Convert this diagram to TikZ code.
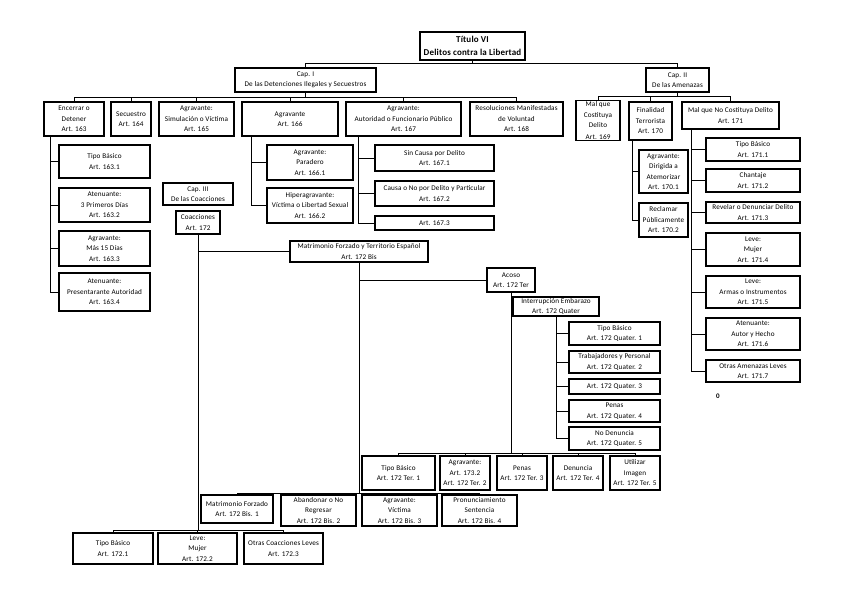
\documentclass[tikz,border=0pt]{standalone}
\usepackage{fontspec}
\setmainfont{Carlito}[LetterSpace=2]

\tikzset{
  box/.style 2 args={draw, line width=1.1pt, align=center, inner sep=0pt,
    minimum width=#1, minimum height=#2, font=\fontsize{7.2}{10.5}\selectfont},
  link/.style={line width=1pt},
}

\begin{document}
\begin{tikzpicture}[x=1pt,y=-1pt]
  \useasboundingbox (0,0) rectangle (848,599);

  % Title and chapters
  \node[box={105}{28}, line width=1.6pt, font=\fontsize{9}{13}\selectfont\bfseries] (tit) at (472.5,46) {Título VI\\Delitos contra la Libertad};
  \node[box={141}{24}] (cap1) at (305.5,80) {Cap. I\\De las Detenciones Ilegales y Secuestros};
  \node[box={63}{24}] (cap2) at (677.5,80) {Cap. II\\De las Amenazas};

  % Cap. I articles
  \node[box={60}{34}] (a163) at (74,119) {Encerrar o\\Detener\\Art. 163};
  \node[box={40}{34}] (a164) at (131,119) {Secuestro\\Art. 164};
  \node[box={75}{34}] (a165) at (196.5,119) {Agravante:\\Simulación o Víctima\\Art. 165};
  \node[box={96}{34}] (a166) at (290,119) {Agravante\\Art. 166};
  \node[box={115}{34}] (a167) at (403.5,119) {Agravante:\\Autoridad o Funcionario Público\\Art. 167};
  \node[box={93}{34}] (a168) at (516.5,119) {Resoluciones Manifestadas\\de Voluntad\\Art. 168};

  % Art. 163
  \node[box={91}{33}] (a1631) at (104.5,161.5) {Tipo Básico\\Art. 163.1};
  \node[box={91}{34}] (a1632) at (104.5,205) {Atenuante:\\3 Primeros Días\\Art. 163.2};
  \node[box={91}{35}] (a1633) at (104.5,248.5) {Agravante:\\Más 15 Días\\Art. 163.3};
  \node[box={91}{38}] (a1634) at (104.5,292) {Atenuante:\\Presentarante Autoridad\\Art. 163.4};

  % Art. 166
  \node[box={86}{35}] (a1661) at (310,162.5) {Agravante:\\Paradero\\Art. 166.1};
  \node[box={86}{35}] (a1662) at (310,205.5) {Hiperagravante:\\Víctima o Libertad Sexual\\Art. 166.2};

  % Art. 167
  \node[box={119}{26}] (a1671) at (434.5,158) {Sin Causa por Delito\\Art. 167.1};
  \node[box={119}{25}] (a1672) at (434.5,193.5) {Causa o No por Delito y Particular\\Art. 167.2};
  \node[box={119}{14}] (a1673) at (434.5,223) {Art. 167.3};

  % Cap. II articles
  \node[box={44}{40}] (a169) at (598,120.5) {Mal que\\Costituya\\Delito\\[1pt]Art. 169};
  \node[box={43}{38}] (a170) at (650.5,121) {Finalidad\\Terrorista\\Art. 170};
  \node[box={97}{27}] (a171) at (730.5,115.5) {Mal que No Costituya Delito\\Art. 171};

  % Art. 170
  \node[box={49}{43}] (a1701) at (663.5,171.5) {Agravante:\\Dirigida a\\Atemorizar\\Art. 170.1};
  \node[box={49}{34}] (a1702) at (663.5,220) {Reclamar\\Públicamente\\Art. 170.2};

  % Art. 171
  \node[box={94}{23}] (a1711) at (753,149.5) {Tipo Básico\\Art. 171.1};
  \node[box={94}{23}] (a1712) at (753,180.5) {Chantaje\\Art. 171.2};
  \node[box={94}{21}] (a1713) at (753,212.5) {Revelar o Denunciar Delito\\Art. 171.3};
  \node[box={94}{33}] (a1714) at (753,249.5) {Leve:\\Mujer\\Art. 171.4};
  \node[box={94}{32}] (a1715) at (753,292) {Leve:\\Armas o Instrumentos\\Art. 171.5};
  \node[box={94}{32}] (a1716) at (753,334) {Atenuante:\\Autor y Hecho\\Art. 171.6};
  \node[box={94}{22}] (a1717) at (753,371) {Otras Amenazas Leves\\Art. 171.7};
  \node[font=\fontsize{7}{8}\selectfont\bfseries, inner sep=0pt] (cero) at (718,396) {0};

  % Cap. III
  \node[box={70}{22}] (cap3) at (198,194) {Cap. III\\De las Coacciones};
  \node[box={44}{23}] (a172) at (198,222.5) {Coacciones\\Art. 172};
  \node[box={138}{21}] (bis) at (359,251.5) {Matrimonio Forzado y Territorio Español\\Art. 172 Bis};
  \node[box={48}{24}] (ter) at (511,280) {Acoso\\Art. 172 Ter};
  \node[box={86}{19}] (qua) at (556,306.5) {Interrupción Embarazo\\Art. 172 Quater};

  % Art. 172 Quater
  \node[box={91}{23}] (q1) at (614.5,333.5) {Tipo Básico\\Art. 172 Quater. 1};
  \node[box={91}{22}] (q2) at (614.5,362) {Trabajadores y Personal\\Art. 172 Quater. 2};
  \node[box={91}{15}] (q3) at (614.5,386.5) {Art. 172 Quater. 3};
  \node[box={91}{22}] (q4) at (614.5,411) {Penas\\Art. 172 Quater. 4};
  \node[box={91}{23}] (q5) at (614.5,438.5) {No Denuncia\\Art. 172 Quater. 5};

  % Art. 172 Ter
  \node[box={73}{34}] (t1) at (398.5,473) {Tipo Básico\\Art. 172 Ter. 1};
  \node[box={50}{34}] (t2) at (465,473) {Agravante:\\Art. 173.2\\Art. 172 Ter. 2};
  \node[box={50}{34}] (t3) at (522,473) {Penas\\Art. 172 Ter. 3};
  \node[box={50}{34}] (t4) at (578,473) {Denuncia\\Art. 172 Ter. 4};
  \node[box={50}{34}] (t5) at (635,473) {Utilizar\\Imagen\\Art. 172 Ter. 5};

  % Art. 172 Bis
  \node[box={72}{28}] (b1) at (237,509) {Matrimonio Forzado\\Art. 172 Bis. 1};
  \node[box={75}{31}] (b2) at (318.5,510.5) {Abandonar o No\\Regresar\\Art. 172 Bis. 2};
  \node[box={75}{31}] (b3) at (399.5,510.5) {Agravante:\\Víctima\\Art. 172 Bis. 3};
  \node[box={75}{31}] (b4) at (479.5,510.5) {Pronunciamiento\\Sentencia\\Art. 172 Bis. 4};

  % Art. 172
  \node[box={80}{31}] (k1) at (113,548.5) {Tipo Básico\\Art. 172.1};
  \node[box={79}{31}] (k2) at (197.5,548.5) {Leve:\\Mujer\\Art. 172.2};
  \node[box={79}{31}] (k3) at (283.5,548.5) {Otras Coacciones Leves\\Art. 172.3};

  % Connectors
  \draw[link] (tit.south) -- ++(0,3) -| (cap1.north);
  \draw[link] (tit.south) -- ++(0,3) -| (cap2.north);
  \foreach \n in {a163,a164,a165,a166,a167,a168}
    \draw[link] (cap1.south) -- ++(0,5) -| (\n.north);
  \foreach \n in {a169,a170,a171}
    \draw[link] (cap2.south) -- ++(0,4) -| (\n.north);

  \foreach \n in {a1631,a1632,a1633,a1634}
    \draw[link] ([xshift=7pt]a163.south west) |- (\n.west);
  \foreach \n in {a1661,a1662}
    \draw[link] ([xshift=10pt]a166.south west) |- (\n.west);
  \foreach \n in {a1671,a1672,a1673}
    \draw[link] ([xshift=13pt]a167.south west) |- (\n.west);
  \foreach \n in {a1701,a1702}
    \draw[link] ([xshift=4pt]a170.south west) |- (\n.west);
  \foreach \n in {a1711,a1712,a1713,a1714,a1715,a1716,a1717}
    \draw[link] ([xshift=10pt]a171.south west) |- (\n.west);

  % Coacciones
  \draw[link] (a172.south) |- (bis.west);
  \foreach \n in {k1,k2,k3}
    \draw[link] (a172.south) -- ++(0,296) -| (\n.north);
  \draw[link] (bis.south) |- (ter.west);
  \foreach \n in {b1,b2,b3,b4}
    \draw[link] (bis.south) -- ++(0,231) -| (\n.north);
  \draw[link] (ter.south) |- (qua.west);
  \foreach \n in {t1,t2,t3,t4,t5}
    \draw[link] (ter.south) -- ++(0,161) -| (\n.north);
  \foreach \n in {q1,q2,q3,q4,q5}
    \draw[link] (qua.south) |- (\n.west);
\end{tikzpicture}
\end{document}
